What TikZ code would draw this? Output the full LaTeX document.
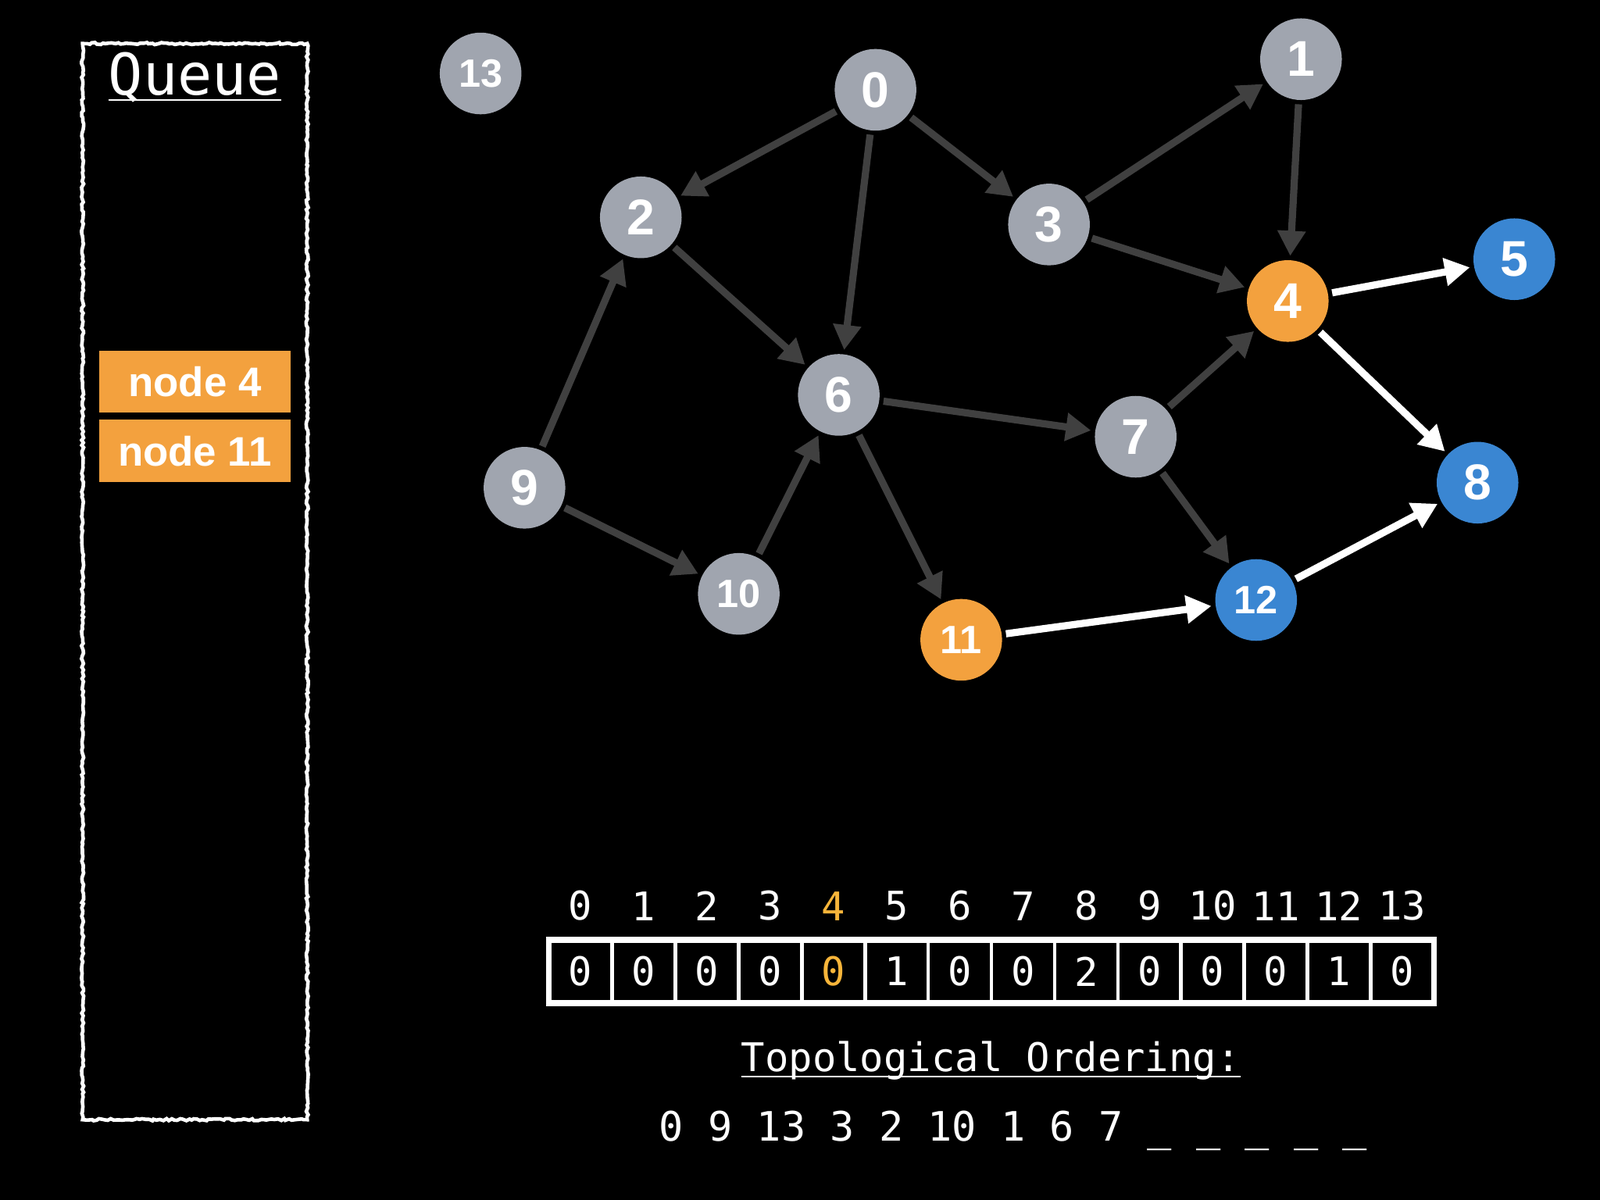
\documentclass[tikz,border=0pt]{standalone}
\usepackage{fontspec}
\setmainfont{Liberation Sans}
\setmonofont{DejaVu Sans Mono}
\usetikzlibrary{arrows.meta, positioning, decorations.pathmorphing}
\definecolor{vgray}{RGB}{160,165,175}
\definecolor{vorange}{RGB}{243,161,62}
\definecolor{vblue}{RGB}{58,134,210}
\definecolor{egray}{RGB}{64,64,64}
\definecolor{hilite}{RGB}{247,181,58}
\tikzset{
    vertex/.style={
        circle, fill=vgray, minimum size=0.8cm, inner sep=0pt,
        outer sep=1.2pt, text=white,
        font=\bfseries\fontsize{14}{14}\selectfont
    },
    twodigit/.style={font=\bfseries\fontsize{11}{11}\selectfont},
    active/.style={fill=vorange},
    pending/.style={fill=vblue},
    edge/.style={draw=egray, line width=2pt, -{Triangle[length=7pt,width=7.5pt]}},
    liveedge/.style={edge, draw=white},
    queuebox/.style={
        rectangle, draw=white, line width=1pt,
        minimum width=2.2cm, minimum height=10.54cm,
        decorate, decoration={random steps, segment length=0.8pt, amplitude=0.3pt}
    },
    queuetitle/.style={text=white, anchor=base, font=\ttfamily\fontsize{16}{16}\selectfont},
    queueitem/.style={
        rectangle, fill=vorange, text=white, inner sep=0pt, outer sep=0pt,
        minimum width=1.88cm, minimum height=0.61cm,
        font=\bfseries\fontsize{11.5}{11.5}\selectfont
    },
    cell/.style={
        rectangle, draw=white, line width=1pt, text=white,
        minimum width=0.619cm, minimum height=0.62cm,
        inner sep=0pt, outer sep=0pt, font=\ttfamily\fontsize{11}{11}\selectfont
    },
    frame/.style={draw=white, line width=1.6pt},
    idx/.style={text=white, inner sep=0pt, font=\ttfamily\fontsize{11}{11}\selectfont},
    mono/.style={text=white, anchor=base, font=\ttfamily\fontsize{11}{11}\selectfont}
}
\begin{document}
\begin{tikzpicture}[x=0.01cm, y=-0.01cm]
\fill[black] (0,0) rectangle (1568,1176);
\useasboundingbox (0,0) rectangle (1568,1176);

% Queue (left side)
\node[queuebox] (queue) at (191,570) {};
\node[queuetitle] (qtitle) at (191,93) {\underline{\smash{Queue}}};
\node[queueitem] (q4) at (191,374) {node 4};
\node[queueitem, below=0.07cm of q4] (q11) {node 11};

% Vertices
\node[vertex, twodigit] (v13) at (471,72) {13};
\node[vertex] (v0) at (858,88) {0};
\node[vertex] (v1) at (1275,58) {1};
\node[vertex] (v2) at (628,213) {2};
\node[vertex] (v3) at (1028,220) {3};
\node[vertex, active] (v4) at (1262,295) {4};
\node[vertex, pending] (v5) at (1484,254) {5};
\node[vertex] (v6) at (822,387) {6};
\node[vertex] (v7) at (1113,428) {7};
\node[vertex, pending] (v8) at (1448,473) {8};
\node[vertex] (v9) at (514,478) {9};
\node[vertex, twodigit] (v10) at (724,582) {10};
\node[vertex, twodigit, active] (v11) at (942,627) {11};
\node[vertex, twodigit, pending] (v12) at (1231,588) {12};

% Processed edges
\draw[edge] (v0) -- (v2);
\draw[edge] (v0) -- (v6);
\draw[edge] (v0) -- (v3);
\draw[edge] (v3) -- (v1);
\draw[edge] (v3) -- (v4);
\draw[edge] (v1) -- (v4);
\draw[edge] (v2) -- (v6);
\draw[edge] (v9) -- (v2);
\draw[edge] (v9) -- (v10);
\draw[edge] (v10) -- (v6);
\draw[edge] (v6) -- (v7);
\draw[edge] (v6) -- (v11);
\draw[edge] (v7) -- (v4);
\draw[edge] (v7) -- (v12);

% Remaining edges
\draw[liveedge] (v4) -- (v5);
\draw[liveedge] (v4) -- (v8);
\draw[liveedge] (v11) -- (v12);
\draw[liveedge] (v12) -- (v8);

% In-degree table
\node[cell] (c0) at (569,952) {0};
\node[cell, right=0pt of c0] (c1) {0};
\node[cell, right=0pt of c1] (c2) {0};
\node[cell, right=0pt of c2] (c3) {0};
\node[cell, right=0pt of c3, text=hilite] (c4) {0};
\node[cell, right=0pt of c4] (c5) {1};
\node[cell, right=0pt of c5] (c6) {0};
\node[cell, right=0pt of c6] (c7) {0};
\node[cell, right=0pt of c7] (c8) {2};
\node[cell, right=0pt of c8] (c9) {0};
\node[cell, right=0pt of c9] (c10) {0};
\node[cell, right=0pt of c10] (c11) {0};
\node[cell, right=0pt of c11] (c12) {1};
\node[cell, right=0pt of c12] (c13) {0};
\draw[frame] (c0.north west) rectangle (c13.south east);

% Table indices
\node[idx, above=0.18cm of c0] (i0) {0};
\node[idx, above=0.18cm of c1] (i1) {1};
\node[idx, above=0.18cm of c2] (i2) {2};
\node[idx, above=0.18cm of c3] (i3) {3};
\node[idx, above=0.18cm of c4, text=hilite] (i4) {4};
\node[idx, above=0.18cm of c5] (i5) {5};
\node[idx, above=0.18cm of c6] (i6) {6};
\node[idx, above=0.18cm of c7] (i7) {7};
\node[idx, above=0.18cm of c8] (i8) {8};
\node[idx, above=0.18cm of c9] (i9) {9};
\node[idx, above=0.18cm of c10] (i10) {10};
\node[idx, above=0.18cm of c11] (i11) {11};
\node[idx, above=0.18cm of c12] (i12) {12};
\node[idx, above=0.18cm of c13] (i13) {13};

% Ordering
\node[mono] (otitle) at (971,1050) {\underline{\smash{Topological Ordering:}}};
\node[mono, font=\ttfamily\fontsize{11.3}{11.3}\selectfont] (order) at (993,1118) {0 9 13 3 2 10 1 6 7 \_ \_ \_ \_ \_};

\end{tikzpicture}
\end{document}
